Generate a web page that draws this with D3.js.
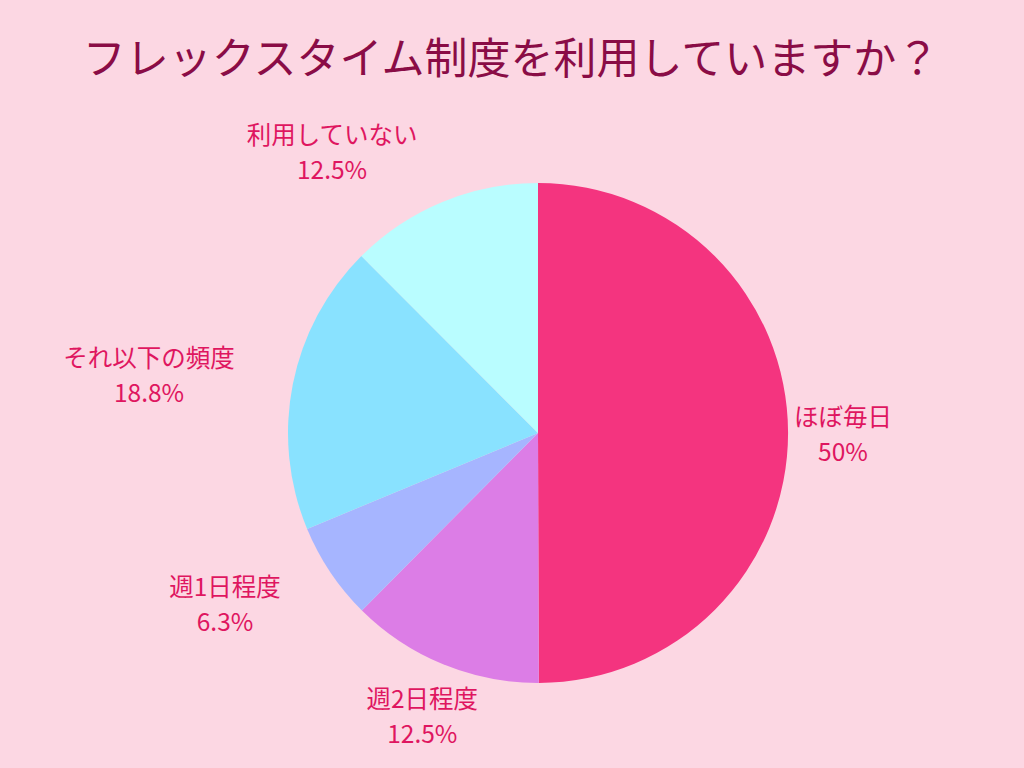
<!DOCTYPE html>
<html><head><meta charset="utf-8">
<script src="https://cdn.jsdelivr.net/npm/d3@7"></script>
<style>
html,body{margin:0;padding:0;background:#fcd7e3;}
svg{display:block;font-family:"Noto Sans CJK JP","Noto Sans",sans-serif;}
</style></head>
<body>
<svg id="chart" width="1024" height="768"></svg>
<script>
const title = "フレックスタイム制度を利用していますか？";
const categories = ["ほぼ毎日", "週2日程度", "週1日程度", "それ以下の頻度", "利用していない"];
const values = [50, 12.5, 6.3, 18.8, 12.5];
const valueLabels = ["50%", "12.5%", "6.3%", "18.8%", "12.5%"];
const colors = ["#f4347f", "#dc7de6", "#a6b5ff", "#89e2ff", "#b9fdff"];

const W = 1024, H = 768;
const cx = 538, cy = 433, R = 250, labelR = 305;
const svg = d3.select("#chart");
svg.append("rect").attr("width", W).attr("height", H).attr("fill", "#fcd7e3");

svg.append("text").attr("x", 511).attr("y", 55)
  .attr("text-anchor", "middle").attr("dominant-baseline", "central")
  .attr("font-size", 43).attr("fill", "#8a0c46").text(title);

const data = categories.map((c, i) => ({cat: c, value: values[i], label: valueLabels[i], color: colors[i]}));
const pie = d3.pie().value(d => d.value).sort(null);
const arcs = pie(data);
const arc = d3.arc().innerRadius(0).outerRadius(R);

const g = svg.append("g").attr("transform", `translate(${cx},${cy})`);
g.selectAll("path").data(arcs).join("path")
  .attr("d", arc).attr("fill", d => d.data.color);

const lg = svg.append("g");
arcs.forEach(d => {
  const a = (d.startAngle + d.endAngle) / 2;
  const px = cx + labelR * Math.sin(a);
  const py = cy - labelR * Math.cos(a);
  const t = lg.append("g");
  const l1 = t.append("text").attr("text-anchor", "middle").attr("dominant-baseline", "central")
    .attr("font-size", 24.5).attr("fill", "#df1660").attr("y", -17.5).text(d.data.cat);
  const l2 = t.append("text").attr("text-anchor", "middle").attr("dominant-baseline", "central")
    .attr("font-size", 24.5).attr("fill", "#df1660").attr("y", 17.5).text(d.data.label);
  const w = Math.max(l1.node().getComputedTextLength(), l2.node().getComputedTextLength());
  const centered = Math.sin(a) >= 0 || Math.cos(a) < -0.85;
  const bx = centered ? px : px - w / 2 - 4;
  t.attr("transform", `translate(${bx},${py})`);
});
</script>
</body></html>
